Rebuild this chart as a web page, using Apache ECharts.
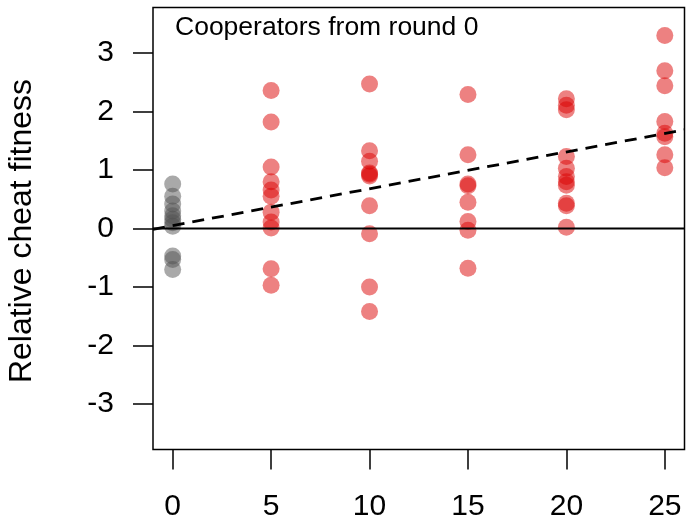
<!DOCTYPE html>
<html>
<head>
<meta charset="utf-8">
<script src="https://cdn.jsdelivr.net/npm/echarts@6/dist/echarts.min.js"></script>
<style>
  html, body { margin: 0; padding: 0; background: #fff; }
  #chart { width: 686px; height: 522px; }
</style>
</head>
<body>
<div id="chart"></div>
<script>
// Relative cheat fitness per sampling round
const round0 = [0.76, 0.55, 0.42, 0.30, 0.22, 0.16, 0.10, 0.04, -0.47, -0.53, -0.70];
const round5 = [2.36, 1.82, 1.05, 0.80, 0.66, 0.55, 0.28, 0.11, 0.01, -0.69, -0.97];
const round10 = [2.47, 1.33, 1.15, 0.95, 0.93, 0.90, 0.39, -0.09, -1.00, -1.42];
const round15 = [2.29, 1.26, 0.76, 0.73, 0.45, 0.12, -0.03, -0.68];
const round20 = [2.22, 2.11, 2.03, 1.23, 1.03, 0.89, 0.80, 0.74, 0.43, 0.39, 0.02];
const round25 = [3.30, 2.70, 2.44, 1.83, 1.63, 1.57, 1.26, 1.04];

const cheatRounds = [5, 10, 15, 20, 25];
const cheatValues = [round5, round10, round15, round20, round25];

// Fitted trend
const trendIntercept = 0.05;
const trendSlope = 0.063;

const xTicks = [0, 5, 10, 15, 20, 25];
const yTicks = [-3, -2, -1, 0, 1, 2, 3];
const xRange = [-1, 26];
const yRange = [-3.78, 3.78];

const font = 'Liberation Sans, Arial, Helvetica, sans-serif';

const coopPoints = round0.map(v => [0, v]);
const cheatPoints = [];
cheatRounds.forEach((r, i) => cheatValues[i].forEach(v => cheatPoints.push([r, v])));

const trendPoints = xRange.map(x => [x, trendIntercept + trendSlope * x]);
const zeroPoints = xRange.map(x => [x, 0]);

const tickStyle = { color: '#000', width: 1.5 };

const chart = echarts.init(document.getElementById('chart'));
chart.setOption({
  animation: false,
  backgroundColor: '#fff',
  grid: {
    left: 153, right: 1.5, top: 7.5, bottom: 72.5,
    show: true, borderColor: '#000', borderWidth: 1.5, backgroundColor: '#fff'
  },
  xAxis: {
    type: 'value', min: xRange[0], max: xRange[1],
    splitLine: { show: false },
    axisLine: { show: false, onZero: false },
    axisTick: { show: true, customValues: xTicks, length: 20, lineStyle: tickStyle },
    axisLabel: { customValues: xTicks, color: '#000', fontSize: 30, fontFamily: font, margin: 42 }
  },
  yAxis: {
    type: 'value', min: yRange[0], max: yRange[1],
    splitLine: { show: false },
    axisLine: { show: false, onZero: false },
    axisTick: { show: true, customValues: yTicks, length: 20, lineStyle: tickStyle },
    axisLabel: { customValues: yTicks, color: '#000', fontSize: 30, fontFamily: font, margin: 39 }
  },
  graphic: [
    {
      type: 'text', x: 22, y: 231, rotation: Math.PI / 2,
      style: { text: 'Relative cheat fitness', fontSize: 32, fontFamily: font, fill: '#000', align: 'center', verticalAlign: 'middle' }
    },
    {
      type: 'text', x: 175, y: 28,
      style: { text: 'Cooperators from round 0', fontSize: 26.5, fontFamily: font, fill: '#000', align: 'left', verticalAlign: 'middle' }
    }
  ],
  series: [
    {
      type: 'scatter', data: coopPoints, symbolSize: 17,
      itemStyle: { color: 'rgba(80,80,80,0.62)' }, z: 2
    },
    {
      type: 'scatter', data: cheatPoints, symbolSize: 17,
      itemStyle: { color: 'rgba(218,0,0,0.62)' }, z: 2
    },
    {
      type: 'line', data: zeroPoints, symbol: 'none', silent: true,
      lineStyle: { color: '#000', width: 1.8 }, z: 3
    },
    {
      type: 'line', data: trendPoints, symbol: 'none', silent: true,
      lineStyle: { color: '#000', width: 2.8, type: [12, 8] }, z: 3
    }
  ]
});
</script>
</body>
</html>
